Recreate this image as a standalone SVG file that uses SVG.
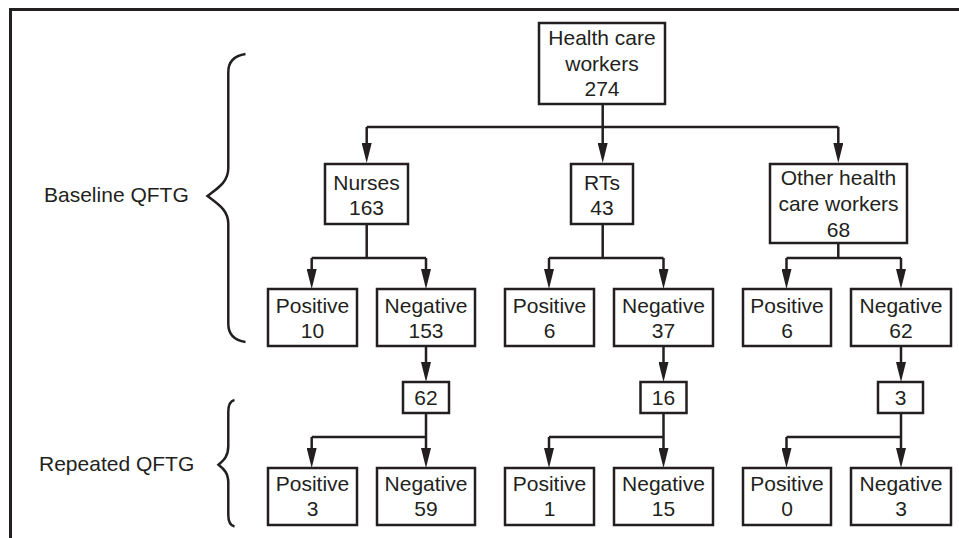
<svg xmlns="http://www.w3.org/2000/svg" width="959" height="538" viewBox="0 0 959 538">
<style>
.box{fill:#fff;stroke:#231f20;stroke-width:2.5}
.t{font-family:"Liberation Sans",Arial,sans-serif;font-size:21px;fill:#231f20;text-anchor:middle}
.lbl{font-family:"Liberation Sans",Arial,sans-serif;font-size:21px;fill:#231f20}
.ln{fill:none;stroke:#231f20;stroke-width:2.5}
.arr{fill:none;stroke:#231f20;stroke-width:2.5;marker-end:url(#ah)}
.brace{fill:none;stroke:#231f20;stroke-width:2.5}
</style>
<defs>
<marker id="ah" markerUnits="userSpaceOnUse" markerWidth="20" markerHeight="10" viewBox="0 0 20 10" refX="12" refY="5" orient="auto">
<path d="M0,0 L20,5 L0,10 z" fill="#231f20"/>
</marker>
</defs>
<rect width="959" height="538" fill="#fff"/>
<path d="M10.5,538 V9.5 H959" fill="none" stroke="#231f20" stroke-width="3"/>

<g id="braces">
<path class="brace" d="M245.5,54 C236,55.5 228.3,60 228.3,72 L228.3,168 C228.3,182 218,188 207.5,196 C218,204 228.3,210 228.3,224 L228.3,324 C228.3,336 236,340.5 245.5,342"/>
<path class="brace" d="M234.5,400 C230,401 228.3,405 228.3,412 L228.3,446 C228.3,456 224,460 218.5,464.7 C224,469 228.3,473 228.3,483 L228.3,515 C228.3,522 230,525.5 234.5,526.5"/>
</g>
<g id="labels">
<text class="lbl" x="44" y="201.5">Baseline QFTG</text>
<text class="lbl" x="39" y="471">Repeated QFTG</text>
</g>

<g id="connectors">
<path class="ln" d="M602.7,104 V127 M366.7,127 H838.3"/>
<path class="arr" d="M366.7,127 V155"/>
<path class="arr" d="M602.7,127 V155"/>
<path class="arr" d="M838.3,127 V155"/>
<path class="ln" d="M366.7,224 V258 M311.7,258 H426"/>
<path class="arr" d="M311.7,258 V281"/>
<path class="arr" d="M426,258 V281"/>
<path class="ln" d="M602.7,224 V258 M549,258 H663.5"/>
<path class="arr" d="M549,258 V281"/>
<path class="arr" d="M663.5,258 V281"/>
<path class="ln" d="M838.3,243 V258 M786.5,258 H901"/>
<path class="arr" d="M786.5,258 V281"/>
<path class="arr" d="M901,258 V281"/>
<path class="arr" d="M426,346 V374"/>
<path class="arr" d="M663.5,346 V374"/>
<path class="arr" d="M901,346 V374"/>
<path class="ln" d="M311.7,437 H426"/>
<path class="arr" d="M426,413 V460"/>
<path class="arr" d="M311.7,437 V460"/>
<path class="ln" d="M549,437 H663.5"/>
<path class="arr" d="M663.5,413 V460"/>
<path class="arr" d="M549,437 V460"/>
<path class="ln" d="M786.5,437 H901"/>
<path class="arr" d="M901,413 V460"/>
<path class="arr" d="M786.5,437 V460"/>
</g>

<g id="hcw"><rect class="box" x="539" y="23" width="126" height="81"/><text class="t" x="602" y="45">Health care</text><text class="t" x="602" y="71">workers</text><text class="t" x="602" y="96">274</text></g>
<g id="nurses"><rect class="box" x="325" y="164" width="83" height="60"/><text class="t" x="366.5" y="190">Nurses</text><text class="t" x="366.5" y="215">163</text></g>
<g id="rts"><rect class="box" x="571" y="164" width="62" height="60"/><text class="t" x="602" y="190">RTs</text><text class="t" x="602" y="215">43</text></g>
<g id="other"><rect class="box" x="770" y="164" width="137" height="79"/><text class="t" x="838.5" y="185">Other health</text><text class="t" x="838.5" y="211">care workers</text><text class="t" x="838.5" y="236.5">68</text></g>

<g id="nurses-pos"><rect class="box" x="268" y="289" width="89" height="57"/><text class="t" x="312.5" y="313">Positive</text><text class="t" x="312.5" y="338">10</text></g>
<g id="nurses-neg"><rect class="box" x="377" y="289" width="98" height="57"/><text class="t" x="426" y="313">Negative</text><text class="t" x="426" y="338">153</text></g>
<g id="rts-pos"><rect class="box" x="505" y="289" width="89" height="57"/><text class="t" x="549.5" y="313">Positive</text><text class="t" x="549.5" y="338">6</text></g>
<g id="rts-neg"><rect class="box" x="614" y="289" width="99" height="57"/><text class="t" x="663.5" y="313">Negative</text><text class="t" x="663.5" y="338">37</text></g>
<g id="other-pos"><rect class="box" x="743" y="289" width="88" height="57"/><text class="t" x="787" y="313">Positive</text><text class="t" x="787" y="338">6</text></g>
<g id="other-neg"><rect class="box" x="851" y="289" width="100" height="57"/><text class="t" x="901" y="313">Negative</text><text class="t" x="901" y="338">62</text></g>

<g id="nurses-rep"><rect class="box" x="403" y="382" width="46" height="31"/><text class="t" x="426" y="405">62</text></g>
<g id="rts-rep"><rect class="box" x="640.5" y="382" width="46" height="31"/><text class="t" x="663.5" y="405">16</text></g>
<g id="other-rep"><rect class="box" x="878" y="382" width="45" height="31"/><text class="t" x="900.5" y="405">3</text></g>

<g id="nurses-rpos"><rect class="box" x="268" y="468" width="89" height="57"/><text class="t" x="312.5" y="491">Positive</text><text class="t" x="312.5" y="516">3</text></g>
<g id="nurses-rneg"><rect class="box" x="377" y="468" width="98" height="57"/><text class="t" x="426" y="491">Negative</text><text class="t" x="426" y="516">59</text></g>
<g id="rts-rpos"><rect class="box" x="505" y="468" width="89" height="57"/><text class="t" x="549.5" y="491">Positive</text><text class="t" x="549.5" y="516">1</text></g>
<g id="rts-rneg"><rect class="box" x="614" y="468" width="99" height="57"/><text class="t" x="663.5" y="491">Negative</text><text class="t" x="663.5" y="516">15</text></g>
<g id="other-rpos"><rect class="box" x="743" y="468" width="88" height="57"/><text class="t" x="787" y="491">Positive</text><text class="t" x="787" y="516">0</text></g>
<g id="other-rneg"><rect class="box" x="851" y="468" width="100" height="57"/><text class="t" x="901" y="491">Negative</text><text class="t" x="901" y="516">3</text></g>
</svg>
